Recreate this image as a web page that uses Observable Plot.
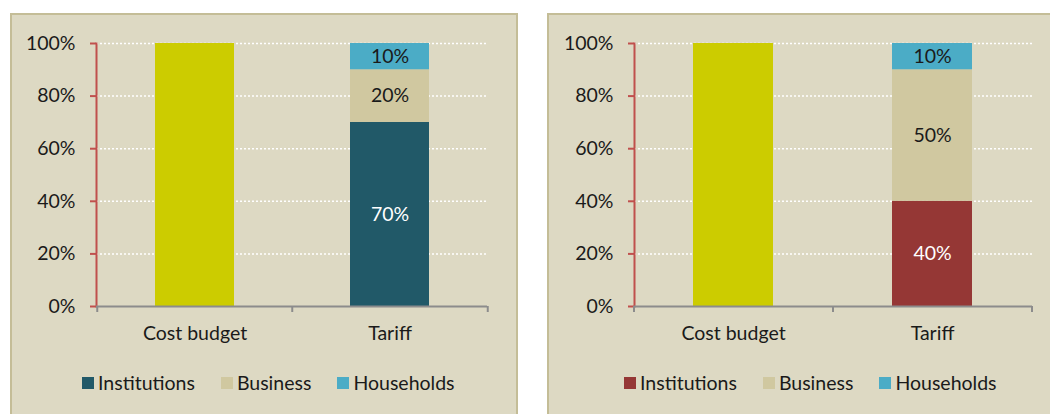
<!DOCTYPE html>
<html><head><meta charset="utf-8">
<script src="https://cdn.jsdelivr.net/npm/d3@7"></script>
<script src="https://cdn.jsdelivr.net/npm/@observablehq/plot@0.6"></script>
<style>
body{margin:0;background:#fff;width:1050px;height:414px;overflow:hidden;position:relative;font-family:Lato,sans-serif;}
.panel{position:absolute;top:13px;height:420px;background:#ddd9c3;border:2px solid #c4bd97;border-bottom:none;box-sizing:border-box;}
.chart{position:absolute;top:13px;}
.leg{position:absolute;top:371px;}
.leg .lg-swatches{min-height:0 !important;margin:0 !important;font-family:Lato,sans-serif !important;font-size:19.5px !important;color:#1a1a1a !important;}
.leg .lg-swatch{margin-right:26px !important;}
.leg .lg-swatch > svg{margin-right:4px !important;}
</style></head><body>
<div class="panel" style="left:10px;width:508px"></div>
<div class="panel" style="left:547px;width:510px"></div>
<div id="c1" class="chart" style="left:10px"></div>
<div id="c2" class="chart" style="left:548px"></div>
<div id="l1" class="leg" style="left:82px"></div>
<div id="l2" class="leg" style="left:624px"></div>
<script>
const categories = ["Cost budget", "Tariff"];
const series = ["Institutions", "Business", "Households"];
const costBudget = [1.0];
const tariffLeft = [0.70, 0.20, 0.10];
const tariffRight = [0.40, 0.50, 0.10];
const yTicks = [0, 0.2, 0.4, 0.6, 0.8, 1.0];
const gridTicks = [0.2, 0.4, 0.6, 0.8, 1.0];

const leftColors = ["#215968", "#d0c8a0", "#4bacc6"];
const rightColors = ["#953735", "#d0c8a0", "#4bacc6"];
const leftText = ["#ffffff", "#1a1a1a", "#1a1a1a"];
const rightText = ["#ffffff", "#1a1a1a", "#1a1a1a"];

const pct = d => Math.round(d * 100) + "%";
const FS = 19.5;

function draw(values, colors, textColors, width, marginRight) {
  const tariffRows = series.map((s, i) => ({category: categories[1], series: s, value: values[i], tc: textColors[i]}));
  const budgetRows = costBudget.map(v => ({category: categories[0], value: v}));
  const height = 340, marginLeft = 86, marginTop = 30, marginBottom = 47;
  const step = (width - marginLeft - marginRight) / categories.length;
  return Plot.plot({
    width, height, marginLeft, marginRight, marginTop, marginBottom,
    style: {background: "transparent", fontFamily: "Lato, sans-serif", fontSize: FS + "px", color: "#1a1a1a", overflow: "visible"},
    x: {domain: categories, paddingInner: 0.596, paddingOuter: 0.298, axis: null, label: null},
    y: {domain: [0, 1], axis: null, label: null},
    color: {domain: series, range: colors},
    marks: [
      Plot.gridY(gridTicks, {stroke: "#ffffff", strokeOpacity: 1, strokeDasharray: "2,2", strokeWidth: 1.5}),
      Plot.barY(budgetRows, {x: "category", y: "value", fill: "#cccc00"}),
      Plot.barY(tariffRows, {x: "category", y: "value", fill: "series", order: series}),
      Plot.text(tariffRows, Plot.stackY({x: "category", y: "value", z: "series", order: series,
        text: d => pct(d.value), fill: {value: "tc", scale: null}, fontSize: FS})),
      Plot.axisY({ticks: yTicks, tickFormat: pct, tickSize: 6, tickPadding: 15, stroke: "#c0504d", strokeWidth: 2, fill: "#1a1a1a", fontSize: FS, label: null}),
      Plot.frame({anchor: "left", stroke: "#c0504d", strokeWidth: 2}),
      Plot.ruleY([0], {stroke: "#8c8c8c", strokeWidth: 2}),
      Plot.axisX({tickSize: 6, text: null, stroke: "#8c8c8c", strokeWidth: 2, dx: -step / 2, label: null}),
      Plot.axisX([categories[1]], {tickSize: 6, text: null, stroke: "#8c8c8c", strokeWidth: 2, dx: step / 2, label: null}),
      Plot.axisX({tickSize: 0, tickPadding: 20, fill: "#1a1a1a", fontSize: FS, label: null})
    ]
  });
}

document.getElementById("c1").append(draw(tariffLeft, leftColors, leftText, 507, 30));
document.getElementById("c2").append(draw(tariffRight, rightColors, rightText, 502, 18));
document.getElementById("l1").append(Plot.legend({color: {domain: series, range: leftColors}, legend: "swatches", swatchSize: 12, className: "lg"}));
document.getElementById("l2").append(Plot.legend({color: {domain: series, range: rightColors}, legend: "swatches", swatchSize: 12, className: "lg"}));
</script>
</body></html>
